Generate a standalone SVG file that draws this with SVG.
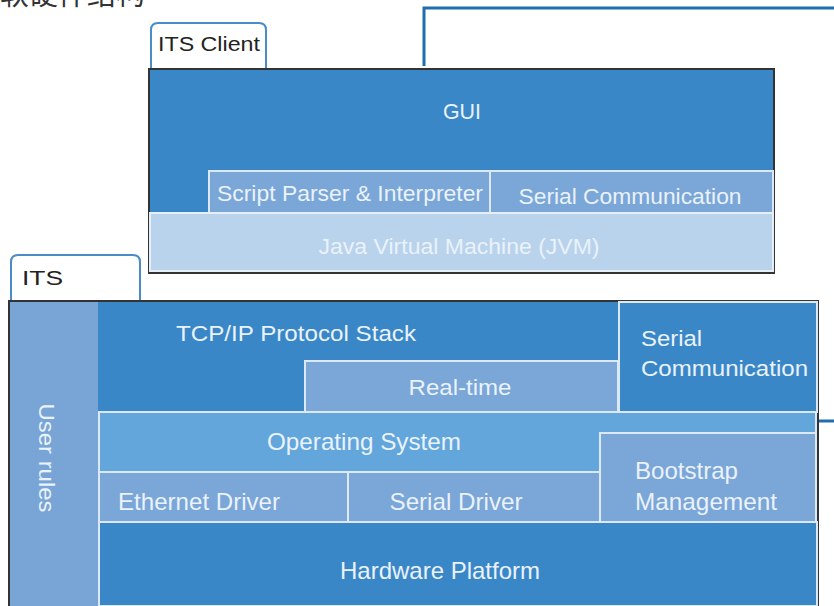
<svg xmlns="http://www.w3.org/2000/svg" width="834" height="606" viewBox="0 0 834 606">
<style>
.t{font-family:"Liberation Sans",Arial,sans-serif;fill:#eaf2fa;font-size:22px}
.n{font-size:24px}
.c{text-anchor:middle}
.tab{fill:#fff;stroke:#4a8cc6;stroke-width:2}
.tabt{font-family:"Liberation Sans",Arial,sans-serif;fill:#222;font-size:20px}
.d{fill:#3a87c8}
.m{fill:#7aa6d8;stroke:#dce9f5;stroke-width:2}
.l{fill:#62a6dc;stroke:#dce9f5;stroke-width:2}
.p{fill:#b9d3ec;stroke:#e6eff8;stroke-width:2}
.conn{fill:none;stroke:#1f6fb0;stroke-width:3}
</style>
<text x="0" y="5" font-family="'Noto Sans CJK SC',sans-serif" font-size="29" fill="#333">软硬件结构</text>
<g id="connectors">
<polyline class="conn" points="424,66 424,8 834,8"/>
<line class="conn" x1="818" y1="421" x2="834" y2="421"/>
</g>
<g id="its-client-tab">
<path class="tab" d="M151,69 V30 Q151,23 158,23 H259 Q266,23 266,30 V69"/>
<text class="tabt" x="158" y="51" textLength="102" lengthAdjust="spacingAndGlyphs">ITS Client</text>
</g>
<g id="its-client">
<rect x="149" y="69" width="625" height="204" fill="#3a87c8" stroke="#333" stroke-width="2"/>
</g>
<g id="gui"><text class="t c" x="462" y="119" textLength="38" lengthAdjust="spacingAndGlyphs">GUI</text></g>
<g id="script-parser"><rect class="m" x="209" y="171" width="281" height="42"/><text class="t c" x="350" y="201" textLength="266" lengthAdjust="spacingAndGlyphs">Script Parser &amp; Interpreter</text></g>
<g id="serial-comm-client"><rect class="m" x="490" y="171" width="283" height="42"/><text class="t c" x="630" y="204" textLength="223" lengthAdjust="spacingAndGlyphs">Serial Communication</text></g>
<g id="jvm"><rect class="p" x="150" y="213" width="623" height="58"/><text class="t c" x="459" y="254" textLength="281" lengthAdjust="spacingAndGlyphs">Java Virtual Machine (JVM)</text></g>
<g id="its-tab">
<path class="tab" d="M11,301 V262 Q11,255 18,255 H133 Q140,255 140,262 V301"/>
<text class="tabt" x="22" y="285" font-size="24" textLength="41" lengthAdjust="spacingAndGlyphs">ITS</text>
</g>
<g id="its">
<rect x="9" y="301" width="809" height="306" fill="#3a87c8" stroke="#333" stroke-width="2"/>
</g>
<g id="user-rules"><rect x="10" y="302" width="88" height="304" fill="#79a5d6"/><text class="t c" transform="translate(39,458) rotate(90)" textLength="109" lengthAdjust="spacingAndGlyphs">User rules</text></g>
<g id="tcpip"><rect class="d" x="99" y="302" width="519" height="110"/><text class="t c" x="296" y="341" textLength="240" lengthAdjust="spacingAndGlyphs">TCP/IP Protocol Stack</text></g>
<g id="realtime"><rect class="m" x="305" y="361" width="313" height="51"/><text class="t c" x="460" y="395" textLength="103" lengthAdjust="spacingAndGlyphs">Real-time</text></g>
<g id="serial-comm"><rect class="d" x="619" y="302" width="198" height="110" stroke="#dce9f5" stroke-width="2"/><text class="t" x="641" y="346" textLength="61" lengthAdjust="spacingAndGlyphs">Serial</text><text class="t" x="641" y="376" textLength="167" lengthAdjust="spacingAndGlyphs">Communication</text></g>
<g id="os"><rect class="l" x="99" y="412" width="717" height="60"/><text class="t n c" x="364" y="450" textLength="194" lengthAdjust="spacingAndGlyphs">Operating System</text></g>
<g id="ethernet-driver"><rect class="m" x="99" y="472" width="249" height="50"/><text class="t n" x="118" y="510" textLength="162" lengthAdjust="spacingAndGlyphs">Ethernet Driver</text></g>
<g id="serial-driver"><rect class="m" x="348" y="472" width="252" height="50"/><text class="t n c" x="456" y="510" textLength="133" lengthAdjust="spacingAndGlyphs">Serial Driver</text></g>
<g id="bootstrap"><rect class="m" x="600" y="433" width="216" height="89"/><text class="t n" x="635" y="479" textLength="103" lengthAdjust="spacingAndGlyphs">Bootstrap</text><text class="t n" x="635" y="510" textLength="142" lengthAdjust="spacingAndGlyphs">Management</text></g>
<g id="hardware"><rect class="d" x="99" y="522" width="718" height="84" stroke="#dce9f5" stroke-width="2"/><text class="t n c" x="440" y="579" textLength="200" lengthAdjust="spacingAndGlyphs">Hardware Platform</text></g>
</svg>
